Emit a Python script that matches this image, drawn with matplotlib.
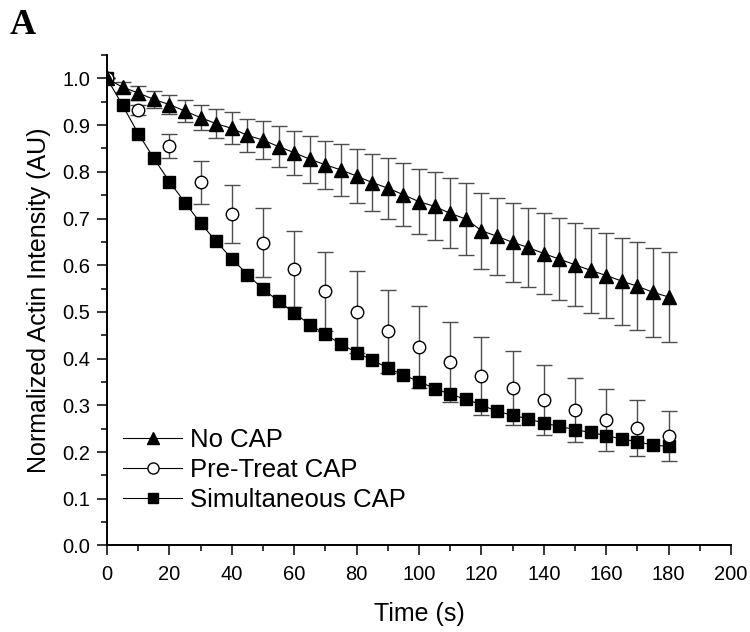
import matplotlib.pyplot as plt
from matplotlib.lines import Line2D
from matplotlib.ticker import MultipleLocator

plt.rcParams['font.family'] = ['Liberation Sans', 'DejaVu Sans']

# time points (s)
t_fine = list(range(0, 185, 5))
t_coarse = list(range(0, 190, 10))

# No CAP (every 5 s) with error bars
no_cap = [1.0, 0.981, 0.969, 0.955, 0.944, 0.930, 0.916, 0.903, 0.893, 0.878,
          0.868, 0.854, 0.841, 0.827, 0.815, 0.804, 0.791, 0.777, 0.765, 0.751,
          0.736, 0.726, 0.711, 0.699, 0.674, 0.662, 0.649, 0.638, 0.625, 0.613,
          0.601, 0.589, 0.578, 0.566, 0.555, 0.542, 0.532]
no_cap_err = [0.0, 0.011, 0.015, 0.018, 0.021, 0.024, 0.027, 0.031, 0.034, 0.036,
              0.041, 0.044, 0.047, 0.050, 0.052, 0.055, 0.058, 0.061, 0.065, 0.068,
              0.070, 0.073, 0.075, 0.077, 0.081, 0.082, 0.084, 0.085, 0.087, 0.088,
              0.089, 0.091, 0.092, 0.093, 0.094, 0.095, 0.096]

# Pre-Treat CAP (every 10 s)
pre_treat = [1.0, 0.933, 0.856, 0.778, 0.709, 0.648, 0.592, 0.544, 0.500, 0.459,
             0.425, 0.393, 0.363, 0.337, 0.312, 0.290, 0.269, 0.252, 0.234]
pre_treat_err = [0.0, 0.011, 0.026, 0.046, 0.062, 0.074, 0.082, 0.085, 0.087, 0.089,
                 0.087, 0.086, 0.083, 0.080, 0.075, 0.069, 0.067, 0.060, 0.053]

# Simultaneous CAP (every 5 s)
simultaneous = [1.0, 0.942, 0.882, 0.829, 0.779, 0.734, 0.690, 0.651, 0.614, 0.580,
                0.549, 0.523, 0.498, 0.473, 0.452, 0.431, 0.413, 0.397, 0.380, 0.365,
                0.351, 0.336, 0.324, 0.313, 0.301, 0.287, 0.279, 0.271, 0.262, 0.255,
                0.248, 0.242, 0.235, 0.228, 0.222, 0.215, 0.212]

fig = plt.figure(figsize=(7.5, 6.32), dpi=100)
ax = fig.add_axes([0.1427, 0.1369, 0.832, 0.776])

err_color = '0.3'

# error bars first so markers sit on top
ax.errorbar(t_fine, no_cap, yerr=no_cap_err, fmt='none', ecolor=err_color,
            elinewidth=1.0, capsize=5.5, capthick=1.0, zorder=2)
ax.errorbar(t_coarse, pre_treat, yerr=pre_treat_err, fmt='none', ecolor=err_color,
            elinewidth=1.0, capsize=5.5, capthick=1.0, zorder=2)

ax.plot(t_fine, simultaneous, color='black', lw=0.8, marker='s', ms=9,
        mfc='black', mec='black', zorder=3)
ax.plot(t_coarse, pre_treat, ls='none', marker='o', ms=9,
        mfc='white', mec='black', mew=1.0, zorder=4)
ax.plot(t_fine, no_cap, color='black', lw=0.8, marker='^', ms=10.5,
        mfc='black', mec='black', zorder=5)

ax.set_xlim(0, 200)
ax.set_ylim(0, 1.05)
ax.xaxis.set_major_locator(MultipleLocator(20))
ax.xaxis.set_minor_locator(MultipleLocator(10))
ax.yaxis.set_major_locator(MultipleLocator(0.1))
ax.yaxis.set_minor_locator(MultipleLocator(0.05))
ax.yaxis.set_major_formatter(plt.FormatStrFormatter('%.1f'))

for side in ['top', 'right']:
    ax.spines[side].set_visible(False)
for side in ['left', 'bottom']:
    ax.spines[side].set_linewidth(1.4)

ax.tick_params(which='major', direction='out', length=7, width=1.1, labelsize=14.5)
ax.tick_params(which='minor', direction='out', length=4, width=1.1)
ax.tick_params(axis='x', which='major', pad=7)
ax.tick_params(axis='y', which='major', pad=5)

ax.set_xlabel('Time (s)', fontsize=18, labelpad=13)
ax.set_ylabel('Normalized Actin Intensity (AU)', fontsize=18, labelpad=8)

handles = [
    Line2D([], [], color='black', lw=0.8, marker='^', ms=9, mfc='black', mec='black'),
    Line2D([], [], color='black', lw=0.8, marker='o', ms=8, mfc='white', mec='black'),
    Line2D([], [], color='black', lw=0.8, marker='s', ms=7.5, mfc='black', mec='black'),
]
ax.legend(handles, ['No CAP', 'Pre-Treat CAP', 'Simultaneous CAP'],
          loc='center left', bbox_to_anchor=(0.026, 0.154), frameon=False,
          fontsize=18.5, handlelength=2.3, handletextpad=0.31, labelspacing=0.22,
          borderpad=0, borderaxespad=0)

fig.text(0.013, 0.985, 'A', fontsize=26, fontweight='bold',
         family='Liberation Serif', ha='left', va='top')

fig.savefig('out.png', dpi=100)
